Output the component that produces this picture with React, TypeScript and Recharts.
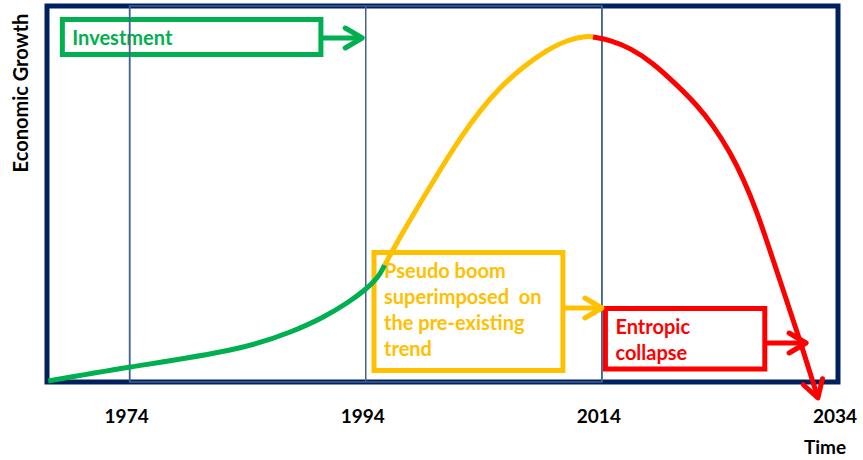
import React from "react";
import {
  LineChart,
  Line,
  XAxis,
  YAxis,
  ReferenceArea,
  ReferenceLine,
} from "recharts";

// curve segments (year, growth index)
const greenYears = [1967.1, 1974.1, 1982.5, 1987.6, 1990.4, 1992.4, 1993.9, 1995.0, 1995.6];
const greenValues = [1, 15, 32, 50, 65, 79, 92, 105, 117];
const yellowYears = [1995.6, 1997.15, 1998.85, 2000.55, 2002.0, 2003.7, 2005.4, 2007.3, 2009.35, 2011.05, 2012.75, 2013.25];
const yellowValues = [117, 150, 184, 217, 244, 272, 295, 315, 332, 342, 346, 345];
const redYears = [2013.25, 2014.7, 2016.4, 2018.35, 2020.35, 2022.05, 2023.4, 2024.85, 2025.95, 2027.15, 2028.25, 2029.35, 2030.8, 2032.3];
const redValues = [345, 342, 334, 319, 297, 277, 257, 230, 204, 170, 131, 92, 41, -16];

const tickYears = [1974, 1994, 2014, 2034];
const dividerYears = [1974, 1994, 2014];

// annotation boxes
const noteColors = ["#00B050", "#FFC000", "#FF0000"];
const noteLines = [
  ["Investment"],
  ["Pseudo boom", "superimposed  on", "the pre-existing", "trend"],
  ["Entropic", "collapse"],
];
const noteX1 = [1968.3, 1994.7, 2014.3];
const noteX2 = [1990.2, 2010.7, 2027.8];
const noteBottom = [327.5, 11.5, 13];
const noteTop = [362.5, 129.5, 73.5];
const arrowLevel = [344, 74, 39];
const arrowTo = [1993.7, 2014.0, 2031.3];

const NAVY = "#002060";
const DIVIDER = "#44628f";
const FONT = "Lato, 'Open Sans', sans-serif";

const toPoints = (years: number[], values: number[]) =>
  years.map((year, i) => ({ year, value: values[i] }));

const greenData = toPoints(greenYears, greenValues);
const yellowData = toPoints(yellowYears, yellowValues);
const redData = toPoints(redYears, redValues);

function NoteText({ viewBox, lines, color }: any) {
  const { x, y } = viewBox;
  return (
    <text
      x={x + 10}
      y={y + 25}
      fill={color}
      fontFamily={FONT}
      fontWeight={700}
      fontSize={20}
      style={{ whiteSpace: "pre" }}
    >
      {lines.map((line: string, i: number) => (
        <tspan key={i} x={x + 10} y={y + 25 + i * 26}>
          {line}
        </tspan>
      ))}
    </text>
  );
}

function Arrowhead({ id, color }: { id: string; color: string }) {
  return (
    <marker
      id={id}
      markerUnits="userSpaceOnUse"
      markerWidth={30}
      markerHeight={30}
      refX={19}
      refY={11}
      orient="auto"
      overflow="visible"
    >
      <path
        d="M2,1 L19,11 L2,21"
        fill="none"
        stroke={color}
        strokeWidth={5}
        strokeLinecap="round"
        strokeLinejoin="round"
      />
    </marker>
  );
}

export default function App() {
  return (
    <div style={{ position: "absolute", left: 0, top: 0, background: "#fff" }}>
      <LineChart
        width={863}
        height={460}
        margin={{ top: 6, right: 25, bottom: 0, left: 0 }}
      >
        <defs>
          <Arrowhead id="head-0" color={noteColors[0]} />
          <Arrowhead id="head-1" color={noteColors[1]} />
          <Arrowhead id="head-2" color={noteColors[2]} />
        </defs>
        <XAxis
          type="number"
          dataKey="year"
          domain={[1967, 2034]}
          ticks={tickYears}
          interval={0}
          height={58}
          axisLine={false}
          tickLine={false}
          tickSize={0}
          tickMargin={8}
          tick={{ fill: "#000", fontSize: 19, fontWeight: 700, fontFamily: FONT, dx: -3 }}
          label={{
            content: (props: any) => {
              const { x, y, width } = props.viewBox;
              return (
                <text
                  x={x + width - 13}
                  y={y + 52}
                  textAnchor="middle"
                  fill="#000"
                  fontFamily={FONT}
                  fontWeight={700}
                  fontSize={19}
                >
                  Time
                </text>
              );
            },
          }}
        />
        <YAxis
          type="number"
          dataKey="value"
          domain={[-20, 376]}
          width={47}
          axisLine={false}
          tickLine={false}
          tick={false}
          label={{
            content: () => (
              <text
                x={28}
                y={93}
                transform="rotate(-90, 28, 93)"
                textAnchor="middle"
                fill="#000"
                fontFamily={FONT}
                fontWeight={700}
                fontSize={20}
              >
                Economic Growth
              </text>
            ),
          }}
        />

        <ReferenceArea
          x1={1967}
          x2={2034}
          y1={0}
          y2={376}
          fill="none"
          stroke={NAVY}
          strokeWidth={5}
        />
        <ReferenceArea
          x1={dividerYears[0]}
          x2={dividerYears[2]}
          y1={0}
          y2={376}
          fill="none"
          stroke={DIVIDER}
          strokeWidth={1.5}
        />
        {dividerYears.map((yr) => (
          <ReferenceLine
            key={yr}
            segment={[
              { x: yr, y: 0 },
              { x: yr, y: 376 },
            ]}
            stroke={DIVIDER}
            strokeWidth={1.5}
          />
        ))}

        {noteColors.map((color, i) => (
          <ReferenceArea
            key={"box" + i}
            x1={noteX1[i]}
            x2={noteX2[i]}
            y1={noteBottom[i]}
            y2={noteTop[i]}
            fill="#fff"
            fillOpacity={0}
            stroke={color}
            strokeWidth={5}
            label={(props: any) => (
              <NoteText viewBox={props.viewBox} lines={noteLines[i]} color={color} />
            )}
          />
        ))}
        {noteColors.map((color, i) => (
          <ReferenceLine
            key={"arrow" + i}
            segment={[
              { x: noteX2[i], y: arrowLevel[i] },
              { x: arrowTo[i], y: arrowLevel[i] },
            ]}
            stroke={color}
            strokeWidth={5}
            markerEnd={`url(#head-${i})`}
          />
        ))}

        <Line
          data={greenData}
          dataKey="value"
          type="natural"
          stroke="#00B050"
          strokeWidth={5}
          dot={false}
          activeDot={false}
          isAnimationActive={false}
        />
        <Line
          data={yellowData}
          dataKey="value"
          type="basis"
          stroke="#FFC000"
          strokeWidth={5}
          dot={false}
          activeDot={false}
          isAnimationActive={false}
        />
        <Line
          data={redData}
          dataKey="value"
          type="basis"
          stroke="#FF0000"
          strokeWidth={5}
          dot={false}
          activeDot={false}
          isAnimationActive={false}
          markerEnd="url(#head-2)"
        />
      </LineChart>
    </div>
  );
}
